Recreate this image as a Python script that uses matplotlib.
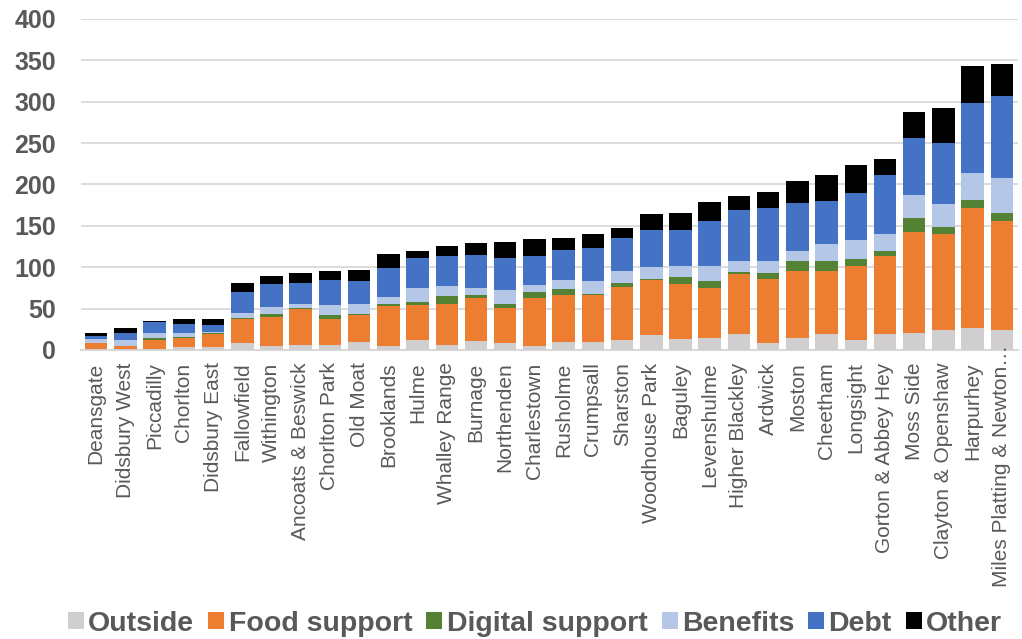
import numpy as np
import matplotlib
matplotlib.use("Agg")
import matplotlib.pyplot as plt
import matplotlib.transforms as mtransforms
from matplotlib.patches import Patch

plt.rcParams["font.family"] = ["Liberation Sans", "DejaVu Sans"]

wards = [
    "Deansgate", "Didsbury West", "Piccadilly", "Chorlton", "Didsbury East",
    "Fallowfield", "Withington", "Ancoats & Beswick", "Chorlton Park", "Old Moat",
    "Brooklands", "Hulme", "Whalley Range", "Burnage", "Northenden",
    "Charlestown", "Rusholme", "Crumpsall", "Sharston", "Woodhouse Park",
    "Baguley", "Levenshulme", "Higher Blackley", "Ardwick", "Moston",
    "Cheetham", "Longsight", "Gorton & Abbey Hey", "Moss Side",
    "Clayton & Openshaw", "Harpurhey", "Miles Platting & Newton\u2026",
]

outside = [1, 1, 1, 3, 3, 8, 5, 6, 6, 10, 5, 12, 6, 11, 9, 5, 10, 10, 12, 18,
           13, 15, 19, 9, 14, 19, 12, 19, 20, 24, 26, 24]
food = [8, 4, 11, 11, 16, 30, 35, 44, 31, 32, 48, 42, 50, 52, 42, 58, 56, 57, 64, 66,
        67, 60, 73, 77, 81, 77, 89, 95, 122, 116, 145, 132]
digital = [0, 0, 2, 2, 1, 1, 4, 1, 5, 2, 2, 4, 9, 4, 4, 7, 8, 1, 5, 2,
           8, 8, 2, 7, 13, 11, 9, 6, 18, 9, 10, 10]
benefits = [4, 7, 6, 4, 2, 6, 8, 5, 12, 12, 9, 17, 12, 8, 18, 8, 10, 15, 15, 14,
            14, 19, 14, 15, 12, 21, 23, 20, 27, 27, 33, 42]
debt = [4, 8, 14, 11, 8, 25, 28, 25, 30, 27, 35, 36, 36, 40, 38, 36, 37, 40, 39, 45,
        43, 54, 61, 64, 58, 52, 57, 71, 69, 74, 85, 99]
other = [3, 7, 1, 6, 8, 11, 10, 12, 11, 14, 17, 9, 13, 14, 19, 20, 14, 17, 13, 19,
         20, 23, 17, 19, 26, 31, 33, 20, 32, 43, 44, 38]

series = [
    ("Outside", outside, "#d0cece"),
    ("Food support", food, "#ed7d31"),
    ("Digital support", digital, "#548235"),
    ("Benefits", benefits, "#b4c7e7"),
    ("Debt", debt, "#4472c4"),
    ("Other", other, "#000000"),
]

text_grey = "#595959"
grid_grey = "#d9d9d9"

fig = plt.figure(figsize=(10.22, 6.39), dpi=100)
ax = fig.add_axes([0.0793, 0.4523, 0.9167, 0.518])

x = np.arange(len(wards))
bottom = np.zeros(len(wards))
for name, vals, color in series:
    vals = np.array(vals, dtype=float)
    ax.bar(x, vals, width=0.77, bottom=bottom, color=color, edgecolor="none",
           zorder=3, label=name)
    bottom += vals

ax.set_xlim(-0.52, len(wards) - 0.45)
ax.set_ylim(0, 400)
ax.set_yticks(range(0, 401, 50))
ax.yaxis.grid(True, color=grid_grey, linewidth=1.3, zorder=0)
ax.set_axisbelow(True)

for side in ["left", "right", "top"]:
    ax.spines[side].set_visible(False)
ax.spines["bottom"].set_color(grid_grey)
ax.spines["bottom"].set_linewidth(1.5)

# last label is truncated and its ellipsis runs up past the axis line,
# so it is drawn by hand instead of as a tick label
ax.set_xticks(x)
ax.set_xticklabels(wards[:-1] + [""], rotation=90, fontsize=15, color=text_grey,
                   ha="center", va="top")
ax.tick_params(axis="x", length=0, pad=9)
ax.tick_params(axis="y", length=0, pad=18, labelsize=18, labelcolor=text_grey)
for lbl in ax.get_yticklabels():
    lbl.set_fontweight("bold")

last_tf = mtransforms.blended_transform_factory(ax.transData, ax.transAxes)
last_tf = last_tf + mtransforms.ScaledTranslation(0, 4 / 72, fig.dpi_scale_trans)
ax.text(x[-1], 0, wards[-1], transform=last_tf, rotation=90, fontsize=15,
        color=text_grey, ha="center", va="top", zorder=4)

handles = [Patch(facecolor=c, edgecolor="none", label=n) for n, _, c in series]
fig.legend(handles=handles, loc="center", bbox_to_anchor=(0.5235, 0.024), ncol=6,
           frameon=False, handlelength=0.56, handleheight=0.56, handletextpad=0.15,
           columnspacing=0.5, prop={"size": 20.5, "weight": "bold"},
           labelcolor=text_grey)

fig.savefig("out.png", dpi=100)
